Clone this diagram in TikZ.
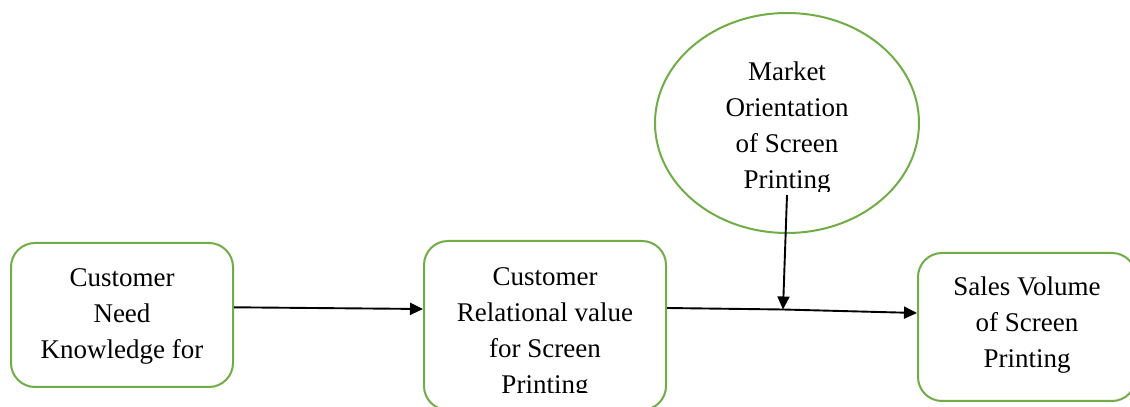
\documentclass[tikz,border=0pt]{standalone}
\usepackage{fontspec}
\setmainfont{Liberation Serif}
\usetikzlibrary{arrows.meta,shapes.geometric}
\definecolor{boxgreen}{RGB}{112,173,71}
\tikzset{
  box/.style={draw=boxgreen,line width=2pt,rounded corners=24pt,fill=white,inner sep=0pt},
  oval/.style={ellipse,draw=boxgreen,line width=2pt,fill=white,inner sep=0pt},
  txt/.style={align=center,font=\fontsize{27}{36}\selectfont,inner sep=0pt},
  conn/.style={line width=1.9pt,-{Triangle[length=13pt,width=12pt]}}
}
\begin{document}
\begin{tikzpicture}[x=1pt,y=1pt]
\useasboundingbox (0,0) rectangle (1130,407);
\clip (0,0) rectangle (1130,407);
% boxes
\node[box,minimum width=222pt,minimum height=144pt] (b1) at (122,92) {};
\node[txt] (b1t) at ([yshift=-1pt]b1.center) {Customer\\Need\\Knowledge for};
\node[box,minimum width=242pt,minimum height=169pt] (b2) at (545,81.5) {};
\begin{scope}
\clip (0,14) rectangle (1130,407);
\node[txt] (b2t) at ([yshift=-7.5pt]b2.center) {Customer\\Relational value\\for Screen\\Printing};
\end{scope}
\node[box,minimum width=218pt,minimum height=148pt] (b3) at (1027,80) {};
\node[txt] (b3t) at ([yshift=2pt]b3.center) {Sales Volume\\of Screen\\Printing};
\node[oval,minimum width=264pt,minimum height=220pt] (ell) at (787,284) {};
\begin{scope}
\clip (0,215) rectangle (1130,407);
\node[txt] (et) at ([yshift=-5pt]ell.center) {Market\\Orientation\\of Screen\\Printing};
\end{scope}
% connectors
\coordinate (m) at (783,97.5);
\draw[conn] ([yshift=7.7pt]b1.east) -- ([yshift=16.5pt]b2.west);
\draw[line width=1.9pt] ([yshift=17.5pt]b2.east) -- (m);
\draw[conn] (m) -- ([yshift=14pt]b3.west);
\draw[conn] ([yshift=39pt]ell.south) -- (m);
\end{tikzpicture}
\end{document}
